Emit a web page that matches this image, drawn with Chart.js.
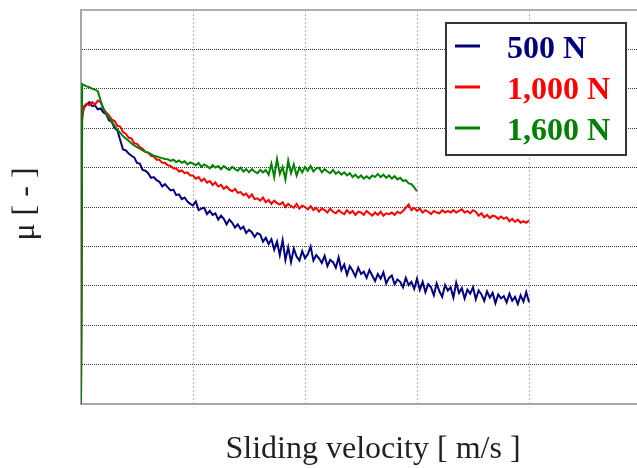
<!DOCTYPE html>
<html>
<head>
<meta charset="utf-8">
<script src="https://cdn.jsdelivr.net/npm/chart.js@4/dist/chart.umd.min.js"></script>
<style>
  html, body { margin: 0; padding: 0; background: #fff; }
  #wrap { width: 637px; height: 468px; }
</style>
</head>
<body>
<div id="wrap"><canvas id="chart" width="637" height="468"></canvas></div>
<script>
// sampling grid of sliding velocity [m/s]: 0, 0.01, then every 0.025 up to 4.0
const velocity = [0, 0.01];
for (let k = 1; k <= 160; k++) velocity.push(+(k * 0.025).toFixed(3));

const seriesLabels = ['500 N', '1,000 N', '1,600 N'];
const seriesColors = ['#000080', '#ff0000', '#008000'];

// friction coefficient, one value per velocity sample
const mu500 = [
  0, 7.3,
  7.52, 7.60, 7.66, 7.56, 7.58, 7.48, 7.50, 7.40, 7.36, 7.20,
  7.16, 7.00, 6.94, 6.70, 6.46, 6.44, 6.36, 6.30, 6.26, 6.12,
  6.10, 5.94, 5.92, 5.86, 5.74, 5.76, 5.68, 5.64, 5.52, 5.58,
  5.50, 5.42, 5.44, 5.30, 5.32, 5.20, 5.24, 5.14, 5.08, 5.04,
  5.14, 4.92, 4.96, 4.98, 4.82, 4.90, 4.80, 4.84, 4.68, 4.78,
  4.70, 4.56, 4.68, 4.60, 4.48, 4.56, 4.44, 4.50, 4.34, 4.42,
  4.36, 4.24, 4.34, 4.30, 4.12, 4.22, 4.06, 4.18, 3.92, 4.12,
  3.78, 4.16, 3.66, 3.98, 3.60, 3.94, 3.74, 3.64, 3.88, 3.70,
  3.80, 4.00, 3.64, 3.78, 3.70, 3.58, 3.76, 3.50, 3.66, 3.60,
  3.46, 3.72, 3.40, 3.54, 3.28, 3.50, 3.38, 3.24, 3.46, 3.30,
  3.36, 3.20, 3.40, 3.26, 3.12, 3.30, 3.18, 3.34, 3.06, 3.20,
  3.26, 3.04, 3.16, 3.10, 2.96, 3.20, 3.02, 3.10, 2.92, 3.18,
  2.90, 3.10, 2.84, 3.04, 2.96, 2.76, 3.06, 2.86, 2.72, 3.02,
  2.88, 2.96, 2.70, 3.08, 2.82, 2.94, 2.68, 2.90, 2.80, 2.96,
  2.66, 2.88, 2.78, 2.62, 2.86, 2.70, 2.82, 2.56, 2.78, 2.68,
  2.74, 2.58, 2.80, 2.62, 2.72, 2.54, 2.76, 2.60, 2.84, 2.58
];

const mu1000 = [
  0, 7.2,
  7.55, 7.62, 7.58, 7.66, 7.60, 7.70, 7.66, 7.48, 7.40, 7.32,
  7.22, 7.18, 7.06, 7.04, 6.90, 6.86, 6.76, 6.74, 6.62, 6.60,
  6.52, 6.48, 6.40, 6.38, 6.30, 6.28, 6.20, 6.20, 6.12, 6.12,
  6.06, 6.04, 5.98, 5.98, 5.90, 5.93, 5.86, 5.88, 5.80, 5.80,
  5.72, 5.76, 5.66, 5.72, 5.62, 5.66, 5.56, 5.62, 5.52, 5.56,
  5.46, 5.52, 5.44, 5.40, 5.46, 5.36, 5.38, 5.30, 5.34, 5.24,
  5.32, 5.20, 5.22, 5.16, 5.24, 5.12, 5.18, 5.08, 5.16, 5.10,
  5.06, 5.12, 5.00, 5.08, 5.02, 4.98, 5.08, 4.96, 5.04, 5.00,
  4.94, 5.02, 4.92, 4.98, 4.88, 4.96, 4.92, 4.86, 4.96, 4.88,
  4.84, 4.92, 4.86, 4.82, 4.92, 4.84, 4.90, 4.80, 4.88, 4.86,
  4.80, 4.90, 4.84, 4.78, 4.86, 4.80, 4.88, 4.78, 4.84, 4.82,
  4.86, 4.80, 4.88, 4.84, 4.90, 4.98, 5.06, 4.92, 4.98, 4.90,
  4.96, 4.86, 4.92, 4.88, 4.82, 4.90, 4.86, 4.84, 4.92, 4.86,
  4.90, 4.86, 4.92, 4.86, 4.90, 4.94, 4.86, 4.90, 4.84, 4.92,
  4.88, 4.78, 4.84, 4.74, 4.80, 4.72, 4.78, 4.76, 4.70, 4.76,
  4.70, 4.74, 4.64, 4.70, 4.62, 4.68, 4.60, 4.64, 4.60, 4.66
];

// 1,600 N run stops at 3.0 m/s
const mu1600 = [
  0, 8.12,
  8.10, 8.06, 8.04, 8.00, 7.98, 7.94, 7.70, 7.50, 7.36, 7.26,
  7.16, 7.06, 6.96, 6.88, 6.80, 6.74, 6.68, 6.62, 6.56, 6.52,
  6.48, 6.44, 6.40, 6.38, 6.34, 6.30, 6.28, 6.26, 6.24, 6.22,
  6.21, 6.17, 6.20, 6.14, 6.18, 6.12, 6.16, 6.08, 6.13, 6.10,
  6.06, 6.12, 6.02, 6.08, 6.04, 5.98, 6.06, 6.00, 6.04, 5.96,
  6.04, 5.98, 5.94, 6.02, 5.96, 5.92, 6.00, 5.90, 5.96, 5.88,
  5.96, 5.90, 5.86, 5.94, 5.88, 5.94, 5.82, 6.10, 5.76, 6.22,
  5.84, 6.02, 5.70, 6.18, 5.86, 6.08, 5.80, 6.00, 5.88, 6.02,
  5.92, 6.04, 5.90, 5.98, 6.00, 5.88, 5.96, 5.90, 5.86, 5.94,
  5.84, 5.90, 5.82, 5.88, 5.80, 5.86, 5.76, 5.82, 5.74, 5.80,
  5.72, 5.78, 5.72, 5.80, 5.76, 5.84, 5.76, 5.82, 5.74, 5.80,
  5.72, 5.78, 5.70, 5.74, 5.66, 5.68, 5.60, 5.58, 5.50, 5.40
];

const xTicks = [0, 1, 2, 3, 4];
const yTicks = [0, 1, 2, 3, 4, 5, 6, 7, 8, 9, 10];

function points(values) {
  return values.map((v, i) => ({ x: velocity[i], y: v }));
}

// axis titles and the boxed legend, drawn on top of the plot
const decorations = {
  id: 'decorations',
  afterDraw(chart) {
    const ctx = chart.ctx;
    ctx.save();
    ctx.fillStyle = '#231f20';
    ctx.font = '32px "Liberation Serif", "Times New Roman", serif';
    ctx.textAlign = 'center';
    ctx.textBaseline = 'alphabetic';
    ctx.fillText('Sliding velocity [ m/s ]', 373, 458);

    ctx.translate(34, 204);
    ctx.rotate(-Math.PI / 2);
    ctx.fillText('\u03bc [ - ]', 0, 0);
    ctx.restore();

    // legend box
    ctx.save();
    ctx.fillStyle = '#fff';
    ctx.fillRect(446, 23, 180, 132);
    ctx.strokeStyle = '#3a3333';
    ctx.lineWidth = 2;
    ctx.strokeRect(446, 23, 180, 132);
    ctx.font = 'bold 32px "Liberation Serif", "Times New Roman", serif';
    ctx.textAlign = 'left';
    ctx.textBaseline = 'alphabetic';
    seriesLabels.forEach((label, i) => {
      const yRow = 46 + i * 41;
      ctx.strokeStyle = seriesColors[i];
      ctx.lineWidth = 3;
      ctx.beginPath();
      ctx.moveTo(455, yRow);
      ctx.lineTo(480, yRow);
      ctx.stroke();
      ctx.fillStyle = seriesColors[i];
      ctx.fillText(label, 507, yRow + 12);
    });
    ctx.restore();
  }
};

new Chart(document.getElementById('chart'), {
  type: 'line',
  data: {
    datasets: [
      { label: seriesLabels[2], data: points(mu1600), borderColor: seriesColors[2] },
      { label: seriesLabels[1], data: points(mu1000), borderColor: seriesColors[1] },
      { label: seriesLabels[0], data: points(mu500), borderColor: seriesColors[0] }
    ]
  },
  options: {
    responsive: false,
    animation: false,
    devicePixelRatio: 1,
    layout: { padding: { left: 81, top: 10, right: 0, bottom: 64 } },
    elements: {
      line: { borderWidth: 2, tension: 0 },
      point: { radius: 0 }
    },
    plugins: {
      legend: { display: false },
      tooltip: { enabled: false }
    },
    scales: {
      x: {
        type: 'linear',
        min: 0,
        max: 4.964,
        afterBuildTicks: (axis) => { axis.ticks = xTicks.map(v => ({ value: v })); },
        ticks: { display: false },
        grid: { color: '#b4b4b4', lineWidth: 1, drawTicks: false },
        border: { color: '#a8a8a8', width: 2, dash: [2, 2] }
      },
      y: {
        min: 0,
        max: 10,
        afterBuildTicks: (axis) => { axis.ticks = yTicks.map(v => ({ value: v })); },
        ticks: { display: false },
        grid: {
          drawTicks: false,
          color: (c) => (c.tick && c.tick.value === 10 ? '#b0b0b0' : '#3c3c3c'),
          lineWidth: (c) => (c.tick && c.tick.value === 10 ? 2 : 1)
        },
        border: {
          color: '#a8a8a8',
          width: 2,
          dash: (c) => (c.tick && c.tick.value === 10 ? [] : [1, 1])
        }
      }
    }
  },
  plugins: [decorations]
});
</script>
</body>
</html>
